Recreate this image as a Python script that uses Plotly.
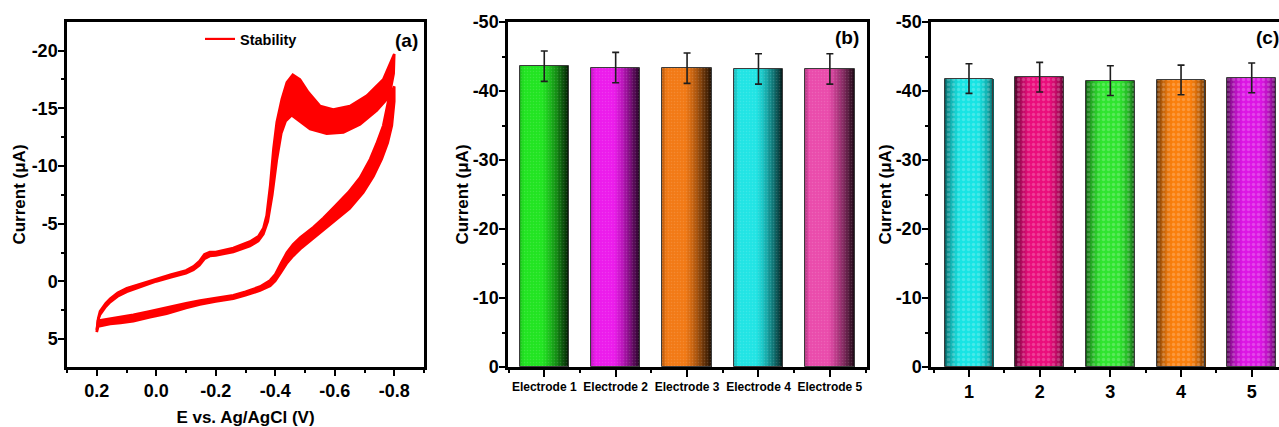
import math
import plotly.graph_objects as go

# ---------------- data ----------------
# Cyclic voltammograms (potential in V, current in uA) - two bounding cycles
cycle_a_E = [0.200, 0.196, 0.189, 0.170, 0.155, 0.130, 0.099, 0.050, 0.000, -0.050,
             -0.100, -0.125, -0.145, -0.162, -0.180, -0.200, -0.259, -0.315, -0.343, -0.360,
             -0.375, -0.390, -0.405, -0.420, -0.435, -0.455, -0.480, -0.517, -0.573, -0.629,
             -0.685, -0.741, -0.786, -0.800,
             -0.800, -0.796, -0.792, -0.778, -0.758, -0.730, -0.696, -0.650, -0.607, -0.560,
             -0.528, -0.484, -0.460, -0.440, -0.420, -0.400, -0.383, -0.349, -0.300, -0.259,
             -0.200, -0.147, -0.100, -0.035, 0.021, 0.077, 0.120, 0.155, 0.195, 0.200]
cycle_a_I = [4.4, 3.4, 2.9, 2.2, 1.8, 1.3, 0.9, 0.45, 0.0, -0.35,
             -0.7, -1.0, -1.4, -1.95, -2.2, -2.25, -2.55, -3.05, -3.5, -4.1,
             -5.2, -7.5, -10.5, -12.8, -13.9, -14.4, -13.9, -13.2, -12.8, -12.9,
             -13.6, -14.8, -16.1, -16.9,
             -15.6, -14.2, -13.5, -12.0, -10.6, -9.1, -7.7, -6.3, -5.4, -4.4,
             -3.7, -2.8, -2.2, -1.6, -0.8, -0.05, 0.4, 0.8, 1.2, 1.5,
             1.75, 2.0, 2.3, 2.8, 3.1, 3.45, 3.6, 3.7, 3.9, 4.4]

cycle_b_E = [0.200, 0.195, 0.189, 0.170, 0.155, 0.130, 0.099, 0.050, 0.000, -0.050,
             -0.100, -0.125, -0.145, -0.162, -0.180, -0.200, -0.259, -0.315, -0.343, -0.360,
             -0.371, -0.383, -0.394, -0.405, -0.422, -0.439, -0.459, -0.483, -0.511, -0.551,
             -0.595, -0.651, -0.708, -0.763, -0.800,
             -0.798, -0.786, -0.763, -0.740, -0.719, -0.685, -0.646, -0.600, -0.562, -0.528,
             -0.484, -0.460, -0.439, -0.420, -0.400, -0.383, -0.349, -0.300, -0.259, -0.200,
             -0.147, -0.100, -0.035, 0.021, 0.077, 0.120, 0.155, 0.195, 0.200]
cycle_b_I = [4.2, 3.2, 2.6, 1.9, 1.5, 1.0, 0.6, 0.2, -0.25, -0.6,
             -0.95, -1.3, -1.75, -2.35, -2.55, -2.55, -2.9, -3.45, -3.9, -4.6,
             -5.7, -8.3, -11.5, -13.8, -15.8, -17.25, -17.9, -17.5, -16.4, -15.2,
             -14.9, -15.2, -16.1, -17.5, -19.7,
             -18.0, -16.4, -13.5, -11.9, -10.6, -9.0, -7.73, -6.5, -5.5, -4.7,
             -3.8, -3.2, -2.5, -1.6, -0.6, -0.1, 0.45, 0.9, 1.2, 1.45,
             1.65, 1.9, 2.3, 2.6, 2.9, 3.1, 3.25, 3.4, 4.2]

# Peak current of five electrodes (uA) and standard deviation
electrodes = ["Electrode 1", "Electrode 2", "Electrode 3", "Electrode 4", "Electrode 5"]
electrode_current = [-43.6, -43.4, -43.3, -43.2, -43.2]
electrode_error = [2.2, 2.2, 2.2, 2.2, 2.2]

# Peak current over repeated measurements (uA) and standard deviation
runs = ["1", "2", "3", "4", "5"]
run_current = [-41.8, -42.0, -41.5, -41.6, -41.9]
run_error = [2.15, 2.15, 2.15, 2.15, 2.15]

cv_xticks = [0.2, 0.0, -0.2, -0.4, -0.6, -0.8]
cv_xticktext = ["0.2", "0.0", "-0.2", "-0.4", "-0.6", "-0.8"]
cv_yticks = [-20, -15, -10, -5, 0, 5]
cv_yticktext = ["-20", "-15", "-10", "-5", "0", "5"]
bar_yticks = [0, -10, -20, -30, -40, -50]
bar_yticktext = ["0", "-10", "-20", "-30", "-40", "-50"]

# ---------------- styling ----------------
RED = "#ff0000"
FONT = "Liberation Sans, Arial, sans-serif"
colors_b = [(34, 228, 34), (236, 28, 236), (242, 122, 22), (34, 228, 228), (234, 76, 172)]
colors_c = [(24, 228, 228), (234, 14, 124), (48, 228, 48), (250, 128, 14), (220, 22, 228)]
BAR_W = 0.69
N_SLICES = 36

W, H = 1279, 427


def px_x(p):
    return p / W


def px_y(p):
    return (H - p) / H


def shade_flat(t):
    # bright body, darkening towards the right edge
    if t < 0.08:
        return 0.78 + 2.75 * t
    if t < 0.45:
        return 1.0
    s = (t - 0.45) / 0.55
    return 1.0 - 0.88 * s ** 1.3


def shade_round(t):
    # cylinder look: dark on both edges
    return min(1.0, 0.28 + 0.8 * math.sin(math.pi * t) ** 0.55)


def rgb(c, f):
    return "rgb({},{},{})".format(*[int(max(0, min(255, v * f))) for v in c])


fig = go.Figure()

# ---------------- panel (a): CV ----------------
fig.add_trace(go.Scatter(x=cycle_a_E, y=cycle_a_I, mode="lines",
                         line=dict(color=RED, width=2.6), xaxis="x", yaxis="y",
                         showlegend=False, hoverinfo="skip"))
fig.add_trace(go.Scatter(x=cycle_b_E, y=cycle_b_I, mode="lines",
                         line=dict(color=RED, width=2.6), fill="tonexty", fillcolor=RED,
                         xaxis="x", yaxis="y", showlegend=False, hoverinfo="skip"))
# legend entry for the voltammogram set
fig.add_trace(go.Scatter(x=[None], y=[None], mode="lines", name="Stability",
                         line=dict(color=RED, width=2.2), xaxis="x", yaxis="y",
                         showlegend=True, hoverinfo="skip"))


# ---------------- bar panels ----------------
def add_bars(xax, yax, values, errors, cols, shade, pattern):
    xs = list(range(1, len(values) + 1))
    step = BAR_W / N_SLICES
    for k in range(N_SLICES):
        t = (k + 0.5) / N_SLICES
        w = step * 1.6 if k < N_SLICES - 1 else step
        fig.add_trace(go.Bar(
            x=xs, y=values, width=[w] * len(xs), offset=[-BAR_W / 2 + k * step] * len(xs),
            marker=dict(color=[rgb(c, shade(t)) for c in cols], line=dict(width=0)),
            xaxis=xax, yaxis=yax, showlegend=False, hoverinfo="skip"))
    fig.add_trace(go.Bar(
        x=xs, y=values, width=[BAR_W] * len(xs),
        marker=dict(color="rgba(0,0,0,0)", line=dict(color="#3c3c3c", width=1),
                    pattern=pattern),
        error_y=dict(type="data", array=errors, color="#1e1e1e", thickness=1.6, width=3.5),
        xaxis=xax, yaxis=yax, showlegend=False, hoverinfo="skip"))


add_bars("x2", "y2", electrode_current, electrode_error, colors_b, shade_flat,
         dict(shape=".", fillmode="replace", bgcolor="rgba(0,0,0,0)",
              fgcolor="white", fgopacity=0.12, size=3, solidity=0.2))
add_bars("x3", "y3", run_current, run_error, colors_c, shade_round,
         dict(shape=".", fillmode="replace", bgcolor="rgba(0,0,0,0)",
              fgcolor="white", fgopacity=0.2, size=5, solidity=0.35))

# ---------------- axes ----------------
tick_font = dict(family=FONT, size=18, color="black", weight="bold")
title_font = dict(family=FONT, size=17, color="black", weight="bold")
minor_tick = dict(ticks="outside", ticklen=3, tickwidth=2, tickcolor="black")
common = dict(showline=True, linecolor="black", linewidth=2.5, ticks="outside",
              ticklen=6, tickwidth=2, tickcolor="black", showgrid=False, zeroline=False,
              tickfont=tick_font, automargin=False)
ycommon = dict(common, ticklabelstandoff=-3)

ydom = [px_y(367), px_y(22)]

fig.update_layout(
    xaxis=dict(common, domain=[px_x(67), px_x(424)], range=[0.3, -0.9], anchor="y",
               mirror=True, tickmode="array", tickvals=cv_xticks, ticktext=cv_xticktext,
               minor=dict(minor_tick, tickmode="linear", tick0=0, dtick=0.1),
               title=dict(text="E vs. Ag/AgCl (V)", font=title_font, standoff=14)),
    yaxis=dict(ycommon, domain=ydom, range=[7.42, -22.48], anchor="x", mirror=True,
               tickmode="array", tickvals=cv_yticks, ticktext=cv_yticktext,
               minor=dict(minor_tick, tickmode="linear", tick0=0, dtick=2.5),
               title=dict(text="Current (\u03bcA)", font=title_font, standoff=2)),
    xaxis2=dict(common, domain=[px_x(508), px_x(866.5)], range=[0.492, 5.513], anchor="y2",
                mirror=True, tickmode="array", tickvals=[1, 2, 3, 4, 5], ticktext=electrodes,
                tickfont=dict(family=FONT, size=12, color="black", weight="bold"), ticklen=7,
                minor=dict(minor_tick, tickmode="linear", tick0=0.5, dtick=1)),
    yaxis2=dict(ycommon, domain=ydom, range=[0, -50], anchor="x2", mirror=True,
                tickmode="array", tickvals=bar_yticks, ticktext=bar_yticktext,
                minor=dict(minor_tick, tickmode="linear", tick0=0, dtick=5),
                title=dict(text="Current (\u03bcA)", font=title_font, standoff=0)),
    xaxis3=dict(common, domain=[px_x(931), 1.0], range=[0.4625, 5.386], anchor="y3",
                mirror=True, tickmode="array", tickvals=[1, 2, 3, 4, 5], ticktext=runs,
                ticklen=7,
                minor=dict(minor_tick, tickmode="linear", tick0=0.5, dtick=1)),
    yaxis3=dict(ycommon, domain=ydom, range=[0, -50], anchor="x3", mirror=False,
                tickmode="array", tickvals=bar_yticks, ticktext=bar_yticktext,
                minor=dict(minor_tick, tickmode="linear", tick0=0, dtick=5),
                title=dict(text="Current (\u03bcA)", font=title_font, standoff=0)),
)

panel_labels = [("(a)", 406, 40), ("(b)", 847, 38), ("(c)", 1267, 38)]
for txt, xp, yp in panel_labels:
    fig.add_annotation(text=txt, x=px_x(xp), y=px_y(yp), xref="paper", yref="paper",
                       showarrow=False, xanchor="center", yanchor="middle",
                       font=dict(family=FONT, size=19, color="black", weight="bold"))

fig.update_layout(
    width=W, height=H, autosize=False,
    margin=dict(l=0, r=0, t=0, b=0),
    paper_bgcolor="white", plot_bgcolor="white",
    barmode="overlay", bargap=0,
    showlegend=True,
    legend=dict(x=px_x(200), y=px_y(23), xanchor="left", yanchor="top",
                bgcolor="rgba(0,0,0,0)", borderwidth=0,
                font=dict(family=FONT, size=14.5, color="black", weight="bold")),
)

fig.write_html("out.html")
